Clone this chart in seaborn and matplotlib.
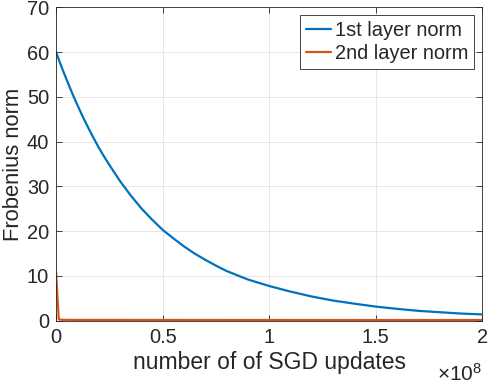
import numpy as np
import pandas as pd
import matplotlib
matplotlib.use("Agg")
import matplotlib.pyplot as plt
import seaborn as sns
from matplotlib.ticker import FuncFormatter

# Datos (x en unidades de 1e8 actualizaciones)
x_capa1 = [0, 0.025, 0.05, 0.075, 0.1, 0.125, 0.15, 0.175, 0.2, 0.225, 0.25, 0.275,
           0.3, 0.35, 0.4, 0.45, 0.5, 0.55, 0.6, 0.65, 0.7, 0.75, 0.8, 0.9,
           1.0, 1.1, 1.2, 1.3, 1.4, 1.5, 1.6, 1.7, 1.8, 1.9, 2.0]
norma_capa1 = [60, 56.8, 53.8, 50.9, 48.2, 45.6, 43.2, 40.9, 38.7, 36.7, 34.8, 33.0,
               31.2, 28.0, 25.1, 22.6, 20.3, 18.4, 16.6, 15.0, 13.6, 12.3, 11.1, 9.2,
               7.75, 6.5, 5.4, 4.5, 3.8, 3.15, 2.65, 2.2, 1.9, 1.6, 1.4]

x_capa2 = [0, 0.013, 0.03, 0.1, 0.5, 1.0, 1.5, 2.0]
norma_capa2 = [10.8, 0.3, 0.2, 0.18, 0.17, 0.16, 0.15, 0.15]

etiquetas = ["1st layer norm", "2nd layer norm"]
colores = ["#0072BD", "#D95319"]

data = pd.concat([
    pd.DataFrame({"updates": np.array(x_capa1) * 1e8, "norm": norma_capa1, "serie": etiquetas[0]}),
    pd.DataFrame({"updates": np.array(x_capa2) * 1e8, "norm": norma_capa2, "serie": etiquetas[1]}),
])

sns.set_style("whitegrid")
plt.rcParams["font.family"] = ["Liberation Sans", "DejaVu Sans"]
plt.rcParams["mathtext.fontset"] = "custom"
plt.rcParams["mathtext.rm"] = "Liberation Sans"
plt.rcParams["mathtext.it"] = "Liberation Sans"

fig = plt.figure(figsize=(4.88, 3.84), dpi=100)
ax = fig.add_axes([0.1148, 0.1648, 0.8739, 0.8162])

sns.lineplot(data=data, x="updates", y="norm", hue="serie", palette=colores,
             linewidth=1.6, ax=ax, sort=False, estimator=None)

ax.set_xlim(0, 2e8)
ax.set_ylim(0, 70)
ax.set_xticks([0, 0.5e8, 1e8, 1.5e8, 2e8])
ax.set_yticks(range(0, 71, 10))
ax.xaxis.set_major_formatter(FuncFormatter(lambda v, p: f"{v / 1e8:g}"))

ax.grid(True, color="#e6e6e6", linewidth=0.7)
for s in ax.spines.values():
    s.set_visible(True)
    s.set_color("#262626")
    s.set_linewidth(0.6)
ax.tick_params(direction="in", length=4, width=0.6, color="#262626",
               labelsize=14.4, labelcolor="#262626", top=True, right=True,
               left=True, bottom=True, pad=5)

ax.set_xlabel("number of of SGD updates", fontsize=16.5, color="#262626", labelpad=3)
ax.set_ylabel("Frobenius norm", fontsize=15.8, color="#262626", labelpad=2)
ax.text(1.0, -0.135, r"$\times10^{8}$", transform=ax.transAxes, ha="right", va="top",
        fontsize=15, color="#262626")

leg = ax.legend(loc="upper right", fontsize=14.4, frameon=True, fancybox=False,
                handlelength=1.25, handletextpad=0.2, borderpad=0.3, labelspacing=0.2,
                borderaxespad=0.4)
leg.get_frame().set_edgecolor("#262626")
leg.get_frame().set_linewidth(0.6)
leg.get_frame().set_alpha(1)

fig.savefig("out.png", dpi=100)
